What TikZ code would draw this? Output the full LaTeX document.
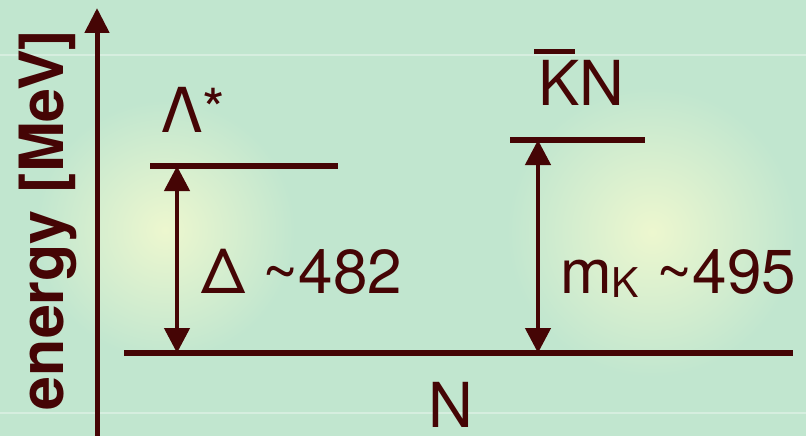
\documentclass[tikz,border=0pt]{standalone}
\usepackage{fontspec}
\setmainfont{TeX Gyre Heros}
\usepackage{tikz}
\usepackage{xcolor}
\usetikzlibrary{arrows.meta,positioning}
\definecolor{bgreen}{HTML}{C1E6CF}
\definecolor{glow}{HTML}{EDF7CF}
\definecolor{maroon}{HTML}{450505}
\tikzset{
  lvl/.style={draw=maroon,line width=5.5pt},
  axisarr/.style={-{Triangle[length=25pt,width=24pt]},draw=maroon,fill=maroon,line width=5pt},
  dblarr/.style={{Triangle[length=25pt,width=25pt]}-{Triangle[length=25pt,width=25pt]},
                 draw=maroon,fill=maroon,line width=4.5pt},
  lbl/.style={text=maroon,inner sep=0pt,font=\fontsize{62}{62}\selectfont},
  axlbl/.style={text=maroon,inner sep=0pt,font=\fontsize{61}{61}\selectfont\bfseries},
  faint/.style={draw=white,opacity=0.35,line width=2pt}
}
\newcommand{\barK}{\leavevmode\rlap{\hspace*{-0.06em}\raisebox{0.84em}{\rule{0.65em}{0.08em}}}K}
\newcommand{\subK}{\raisebox{-0.07em}{\fontsize{41}{41}\selectfont K}}
\newcommand{\supstar}{\raisebox{0.03em}{\fontsize{58}{58}\selectfont *}}

\begin{document}
\begin{tikzpicture}[x=1pt,y=-1pt]
  \useasboundingbox (0,0) rectangle (806,436);
  \fill[bgreen] (0,0) rectangle (806,436);
  \shade[inner color=glow,outer color=bgreen] (165,230) circle[radius=130pt];
  \shade[inner color=glow,outer color=bgreen] (652,232) circle[radius=145pt];
  \draw[faint] (0,55) -- (806,55);
  \draw[faint] (0,413) -- (806,413);

  \coordinate (axB) at (97,436);
  \coordinate (axT) at (97,8);
  \draw[axisarr] (axB) -- (axT);
  \node[axlbl,rotate=90,anchor=base] (elbl) at (63,220) {energy [MeV]};

  \coordinate (lsL) at (150,166);
  \coordinate (lsR) at (338,166);
  \coordinate (kbL) at (510,140);
  \coordinate (kbR) at (645,140);
  \coordinate (nL) at (124,353);
  \coordinate (nR) at (793,353);
  \draw[lvl] (lsL) -- (lsR);
  \draw[lvl] (kbL) -- (kbR);
  \draw[lvl] (nL) -- (nR);

  \coordinate (lsA) at (177,166);
  \coordinate (nA1) at (177,353);
  \coordinate (kbA) at (538,140);
  \coordinate (nA2) at (538,353);
  \draw[dblarr] (nA1) -- (lsA);
  \draw[dblarr] (nA2) -- (kbA);

  \node[lbl,anchor=base west] (lstar) at (161,132) {Λ\supstar};
  \node[lbl,anchor=base west] (kbarn) at (538,106) {\barK N};
  \node[lbl,anchor=base west] (nuc) at (428,427) {N};
  \node[lbl,anchor=base west] (delta) at (201,293) {Δ \textasciitilde482};
  \node[lbl,anchor=base west] (mk) at (560,293) {m\subK\ \textasciitilde495};
\end{tikzpicture}
\end{document}
